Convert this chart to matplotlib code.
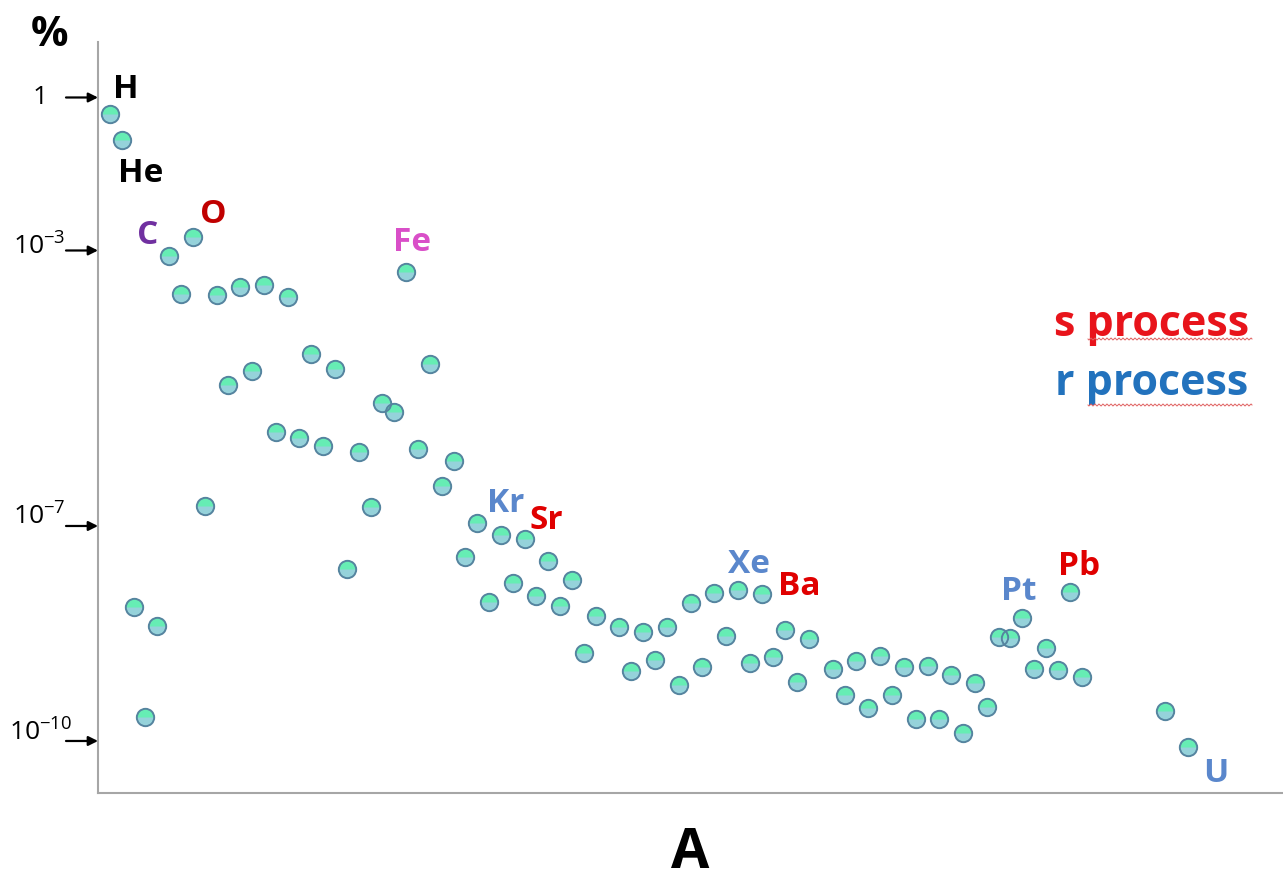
import numpy as np
import matplotlib
matplotlib.use('Agg')
import matplotlib.pyplot as plt

plt.rcParams['font.family'] = ['Open Sans', 'DejaVu Sans']
plt.rcParams['mathtext.fontset'] = 'custom'
plt.rcParams['mathtext.rm'] = 'Open Sans'
plt.rcParams['mathtext.default'] = 'regular'

# atomic number (A axis position) and log10 abundance (%)
Z = [1, 2, 3, 4, 5, 6, 7, 8, 9, 10,
     11, 12, 13, 14, 15, 16, 17, 18, 19, 20,
     21, 22, 23, 24, 25, 26, 27, 28, 29, 30,
     31, 32, 33, 34, 35, 36, 37, 38, 39, 40,
     41, 42, 44, 45, 46, 47, 48, 49, 50,
     51, 52, 53, 54, 55, 56, 57, 58, 59, 60,
     62, 63, 64, 65, 66, 67, 68, 69, 70,
     71, 72, 73, 74, 75, 76, 77, 78, 79, 80,
     81, 82, 83, 90, 92]
log_abund = [-0.32, -0.83, -8.13, -9.67, -8.40, -3.08, -3.63, -2.74, -6.71, -3.65,
             -4.95, -3.53, -4.75, -3.50, -5.64, -3.68, -5.72, -4.50, -5.84, -4.72,
             -7.60, -5.93, -6.72, -5.21, -5.34, -3.31, -5.88, -4.65, -6.42, -6.06,
             -7.43, -6.96, -8.06, -7.13, -7.80, -7.18, -7.98, -7.49, -8.12, -7.75,
             -8.77, -8.26, -8.41, -9.02, -8.48, -8.87, -8.41, -9.22, -8.07,
             -8.97, -7.93, -8.53, -7.89, -8.91, -7.95, -8.83, -8.45, -9.18, -8.58,
             -9.00, -9.36, -8.88, -9.54, -8.81, -9.36, -8.97, -9.69, -8.95,
             -9.69, -9.08, -9.89, -9.19, -9.53, -8.55, -8.56, -8.28, -9.00, -8.70,
             -9.01, -7.92, -9.11, -9.58, -10.08]

# element labels: name, Z position, log10 position, colour
elements = ['H', 'He', 'C', 'O', 'Fe', 'Kr', 'Sr', 'Xe', 'Ba', 'Pt', 'Pb', 'U']
elem_x = [2.35, 3.6, 4.2, 9.7, 26.5, 34.4, 37.8, 54.9, 59.2, 77.7, 82.8, 94.3]
elem_y = [0.15, -1.5, -2.7, -2.3, -2.85, -6.68, -6.92, -7.54, -7.84, -7.92, -7.57, -10.45]
elem_col = ['black', 'black', '#7030A0', '#C00000', '#D94FC8', '#5A87CC', '#E00000',
            '#5A87CC', '#E00000', '#5A87CC', '#E00000', '#5A87CC']

tick_vals = [0, -3, -7, -10]
tick_text = ['1', '10$^{-3}$', '10$^{-7}$', '10$^{-10}$']

# the slide's vertical axis is not evenly spaced per decade
anchor_log = [-12, -10, -7, -3, 0, 2]
anchor_pos = [-143.3, 0, 215, 490.5, 643.5, 745.5]


def fwd(v):
    return np.interp(v, anchor_log, anchor_pos)


def inv(p):
    return np.interp(p, anchor_pos, anchor_log)


fig = plt.figure(figsize=(12.83, 8.74), dpi=100)
ax = fig.add_axes([98 / 1283, 81 / 874, 1 - 98 / 1283, (793 - 42) / 874])
ax.set_yscale('function', functions=(fwd, inv))
ax.set_xlim(0, 100)
ax.set_ylim(-10.726, 1.088)

# circles: bluish base, green upper half, then the outline
ax.plot(Z, log_abund, linestyle='none', marker='o', markersize=12.5,
        markerfacecolor='#95D2DA', markeredgewidth=0)
ax.plot(Z, log_abund, linestyle='none', marker='o', markersize=12.5,
        fillstyle='top', markerfacecolor='#66EDB4', markerfacecoloralt='none',
        markeredgewidth=0)
ax.plot(Z, log_abund, linestyle='none', marker='o', markersize=12.5,
        markerfacecolor='none', markeredgecolor='#55849F', markeredgewidth=1.4)

for name, x, y, c in zip(elements, elem_x, elem_y, elem_col):
    ax.text(x, y, name, color=c, fontsize=24, fontweight='bold', ha='center', va='center')

ax.text(0.889, 0.624, 's process', transform=ax.transAxes, color='#E8141B',
        fontsize=31, fontweight='bold', ha='center', va='center')
ax.text(0.889, 0.545, 'r process', transform=ax.transAxes, color='#2272BD',
        fontsize=31, fontweight='bold', ha='center', va='center')

for spine in ['top', 'right']:
    ax.spines[spine].set_visible(False)
for spine in ['left', 'bottom']:
    ax.spines[spine].set_color('#A6A6A6')
    ax.spines[spine].set_linewidth(1.5)
ax.set_xticks([])
ax.set_yticks([])

# tick labels with arrows pointing at the axis
ytr = ax.get_yaxis_transform()
text_off = [(-58, 0, 'center'), (-33, 3, 'right'), (-32, 9, 'right'), (-26, 8, 'right')]
for v, t, (dx, dy, ha) in zip(tick_vals, tick_text, text_off):
    ax.annotate('', xy=(0, v), xycoords=ytr, xytext=(-32, 0), textcoords='offset pixels',
                arrowprops=dict(arrowstyle='-|>', color='black', lw=1.6,
                                mutation_scale=14, shrinkA=0, shrinkB=0),
                annotation_clip=False)
    ax.annotate(t, xy=(0, v), xycoords=ytr, xytext=(dx, dy), textcoords='offset pixels',
                fontsize=19, ha=ha, va='center', annotation_clip=False)

# red spell-check squiggles under "process"
for y0 in [339, 405]:
    xs = np.linspace(1088, 1252, 200)
    ys = y0 + 1.0 * np.sin((xs - 1088) / 4 * 2 * np.pi)
    fig.add_artist(plt.Line2D(xs / 1283, 1 - ys / 874, color='#E06060', lw=0.7,
                              transform=fig.transFigure))

fig.text(50 / 1283, 1 - 35 / 874, '%', fontsize=30, fontweight='bold', ha='center', va='center')
fig.text(690 / 1283, 1 - 868 / 874, 'A', fontsize=40, fontweight='bold', ha='center', va='baseline')

fig.savefig('out.png', dpi=100)
